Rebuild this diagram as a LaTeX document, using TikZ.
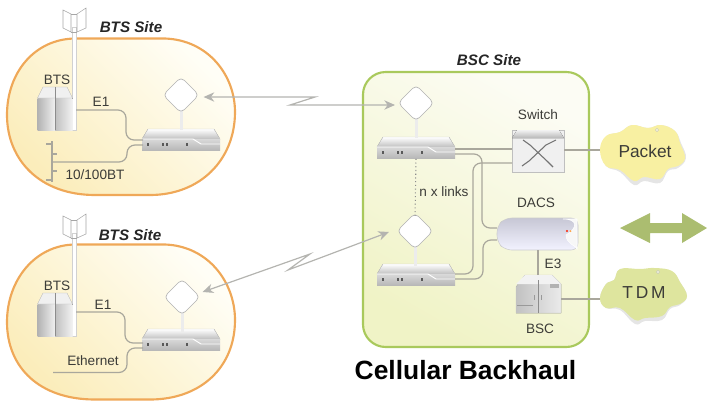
\documentclass[tikz,border=0pt]{standalone}
\usepackage{fontspec}
\setmainfont{Liberation Sans}
\usetikzlibrary{arrows.meta,calc}
\definecolor{wire}{HTML}{A9A79C}
\definecolor{linkc}{HTML}{B4B4B0}
\definecolor{orangeb}{HTML}{EFA858}
\definecolor{greenb}{HTML}{A9C95C}
\definecolor{lab}{HTML}{3C3C38}
\definecolor{sitea}{HTML}{FBEDBB}
\definecolor{siteb}{HTML}{FFFEF6}
\definecolor{bsca}{HTML}{F0F3C6}
\definecolor{bscb}{HTML}{FCFCF4}
\definecolor{pkfill}{HTML}{F8F0A2}
\definecolor{tdfill}{HTML}{DEE59E}
\definecolor{bigarrow}{HTML}{ABBD70}
\tikzset{
 x=0.75pt,y=-0.75pt,
 wireline/.style={draw=wire,line width=0.9pt,rounded corners=6pt},
 linkline/.style={draw=linkc,line width=0.9pt,{Stealth[length=8pt,width=7pt,inset=2.5pt]}-{Stealth[length=8pt,width=7pt,inset=2.5pt]}},
 lbl/.style={text=lab,font=\fontsize{10.2pt}{12pt}\selectfont,inner sep=0pt},
 sitelbl/.style={text=black!85,font=\fontsize{11.4pt}{13pt}\selectfont\bfseries\itshape,inner sep=0pt},
 sitefill/.style={draw=orangeb,line width=1.6pt,left color=sitea,right color=siteb,shading angle=135},
 pics/router/.style={code={
   \fill[top color=white,bottom color=black!25,draw=black!20,line width=0.3pt] (-39,-1) -- (-33,-11) -- (33,-11) -- (39,-1) -- cycle;
   \fill[top color=black!15,bottom color=black!28] (-39,-1) rectangle (39,10);
   \draw[white,line width=0.7pt] (-39,-1) -- (12,-1) -- (20,4) -- (39,4);
   \foreach \k in {-33,-18,-14,6}{\fill[black!65] (\k-1.2,3) rectangle (\k+1.2,5.6);}
   \node[inner sep=0pt,minimum width=58.5pt,minimum height=15.75pt] (-n) at (0,0) {};
 }},
 pics/antenna/.style={code={
   \fill[white!85!gray] (-1.5,10) rectangle (1.5,35);
   \draw[black!30,line width=0.5pt,fill=white,rounded corners=3.5pt] (0,-18) -- (18,0) -- (0,18) -- (-18,0) -- cycle;
   \node[inner sep=0pt,minimum size=20pt] (-n) at (0,0) {};
 }},
 pics/cabinet/.style={code={
   \fill[left color=black!30,right color=black!6] (-17.5,-12) rectangle (0,20);
   \fill[left color=black!25,right color=black!5] (0,-12) rectangle (17.5,20);
   \fill[black!6,draw=black!28,line width=0.3pt] (-17.5,-12) -- (-12,-23) -- (12,-23) -- (17.5,-12) -- cycle;
   \draw[black!45,line width=0.5pt] (0,-23) -- (0,20);
   \node[inner sep=0pt,minimum width=27pt,minimum height=33pt] (-n) at (0,0) {};
 }},
 pics/tower/.style={code={
   \fill[white,draw=black!18,line width=0.3pt] (-2,-8) rectangle (2,\towerlen);
   \fill[white,draw=black!35,line width=0.4pt] (-11,-25) -- (-3,-21) -- (-3,-3) -- (-11,-7) -- cycle;
   \fill[white,draw=black!35,line width=0.4pt] (12,-27) -- (3,-21) -- (3,-3) -- (12,-7) -- cycle;
   \draw[black!35,line width=0.4pt] (-3,-21) -- (3,-21) (-3,-3) -- (3,-3);
   \node[inner sep=0pt,minimum size=6pt] (-n) at (0,0) {};
 }},
}
\newcommand{\towerlen}{95}
\begin{document}
\begin{tikzpicture}
\useasboundingbox (0,0) rectangle (708,401);
% sites
\path[sitefill] (75,38.5) -- (165,38.5) .. controls (208,40) and (235,75) .. (235,112) .. controls (235,160) and (200,195) .. (150,195) -- (95,195) .. controls (40,195) and (7,160) .. (7,115) .. controls (7,72) and (35,39) .. (75,38.5) -- cycle;
\path[sitefill] (75,244.5) -- (165,244.5) .. controls (208,246) and (235,282) .. (235,320) .. controls (235,368) and (200,399.5) .. (150,399.5) -- (95,399.5) .. controls (40,399.5) and (7,368) .. (7,322) .. controls (7,280) and (35,245) .. (75,244.5) -- cycle;
\path[draw=greenb,line width=1.6pt,rounded corners=17pt,left color=bsca,right color=bscb,shading angle=150] (363,72) rectangle (589,347);
% site labels
\node[sitelbl] (s1) at (131,27) {BTS Site};
\node[sitelbl] (s2) at (130,235) {BTS Site};
\node[sitelbl] (s3) at (489,60) {BSC Site};
% site 1
\pic (t1) at (74,35) {tower};
\pic (c1) at (55,110) {cabinet};
\pic (r1) at (181,140) {router};
\pic (a1) at (181,95) {antenna};
\coordinate (bus1) at (52,162);
\draw[wireline] (t1-n.center |- 0,110) ++(2,0) -| (126,140) -- (143,140);
\draw[wireline] (bus1) -| (127,145) -- (143,145);
\draw[wire,line width=0.9pt] (52,141) -- (52,182) (52,154) -- (57,154) (46,144) -- (52,144) (46,180) -- (52,180) (52,171) -- (57,171);
\node[lbl] (b1) at (57,80) {BTS};
\node[lbl] (e1) at (101,102) {E1};
\node[lbl] (bt) at (95,175) {10/100BT};
% site 2
\pic (t2) at (74,241) {tower};
\pic (c2) at (55,316) {cabinet};
\pic (r2) at (181,340) {router};
\pic (a2) at (182,297) {antenna};
\coordinate (eth) at (53,372.5);
\draw[wireline] (76,312) -| (125,343) -- (143,343);
\draw[wireline] (eth) -| (127,348) -- (143,348);
\node[lbl] (b2) at (57,286) {BTS};
\node[lbl] (e2) at (103,305) {E1};
\node[lbl] (et) at (93,361) {Ethernet};
% BSC site
\pic (r3) at (416,148) {router};
\pic (a3) at (416,103) {antenna};
\pic (r4) at (416,275) {router};
\pic (a4) at (415,231) {antenna};
\draw[black!45,dotted,line width=0.8pt] (r3-n.south) -- (a4-n.north);
\node[lbl] (nx) at (444,192) {n x links};
% switch
\node[inner sep=0pt,minimum width=39pt,minimum height=31.5pt] (sw) at (538,151) {};
\fill[white!88!gray,draw=black!25,line width=0.3pt] (sw.south west) rectangle (sw.north east);
\fill[top color=black!5,bottom color=black!28] (512,138) -- (517,130) -- (559,130) -- (564,138) -- cycle;
\draw[black!55,line width=0.8pt] (523,140) -- (530,145) -- (547,161) -- (553,167) (556,140) -- (546,145) -- (529,161) -- (522,166);
\node[lbl] (swl) at (538,115) {Switch};
% DACS
\node[inner sep=0pt,minimum width=60.75pt,minimum height=24pt] (dacs) at (537.5,234) {};
\draw[black!20,line width=0.4pt,top color=blue!25!black!22!white,bottom color=white!95!blue,rounded corners=5pt] (497,226) -- (505,218) -- (578,218) -- (578,250) -- (505,250) -- (497,242) -- cycle;
\draw[white,fill=white!94!gray,line width=0.4pt] (563,219) .. controls (578,219) and (578,228) .. (566,235) .. controls (566,244) and (577,246) .. (577,249) -- (577,219) -- cycle;
\fill[red!75!orange] (567,231) circle (1.2);
\fill[orange!70] (570.5,231) circle (1);
\node[lbl] (dl) at (536,203) {DACS};
% BSC cabinet
\node[inner sep=0pt,minimum width=33.75pt,minimum height=28.5pt] (bsc) at (538.5,294) {};
\fill[left color=black!24,right color=black!8,draw=black!22,line width=0.3pt] (516,287) -- (525,275) -- (552,275) -- (561,284) -- (561,313) -- (516,313) -- cycle;
\fill[black!5] (516,284) -- (525,275) -- (552,275) -- (561,284) -- cycle;
\draw[black!45,line width=0.5pt] (538,280) -- (538,313);
\draw[black!40,line width=0.5pt] (534,295) -- (534,300) (541,295) -- (541,300) (517,305) -- (533,305);
\fill[black!30] (550,284) rectangle (559,288);
\node[lbl] (bl) at (540,329) {BSC};
\node[lbl] (e3) at (553,264) {E3};
% clouds
\path[fill=black!10] plot[smooth cycle,tension=0.7] coordinates {(601,150) (607,136) (620,132) (632,125) (648,128) (661,125) (675,131) (681,143) (686,158) (678,168) (668,171) (660,183) (644,181) (634,185) (620,172) (606,166)};
\node[inner sep=0pt,minimum width=45pt,minimum height=30pt] (pk) at (643,152) {};
\path[fill=pkfill] plot[smooth cycle,tension=0.7] coordinates {(600,150) (606,136) (620,132) (632,125) (648,128) (661,125) (675,131) (680,143) (685,158) (678,166) (668,169) (660,179) (644,177) (634,181) (620,170) (606,166)};
\draw[black!25,line width=0.3pt,fill=white!60!pkfill] (657,130) circle (1.6);
\node[font=\fontsize{13pt}{15pt}\selectfont,text=lab,inner sep=0pt] (pkl) at (645,151) {Packet};
\path[fill=black!10] plot[smooth cycle,tension=0.7] coordinates {(600,298) (606,284) (614,280) (620,270) (640,270) (655,269) (672,272) (680,282) (687,296) (680,305) (670,309) (662,320) (645,321) (635,324) (620,310) (606,308)};
\node[inner sep=0pt,minimum width=45pt,minimum height=30pt] (td) at (644,295) {};
\path[fill=tdfill] plot[smooth cycle,tension=0.7] coordinates {(600,298) (606,284) (614,280) (620,269) (640,269) (655,268) (672,271) (680,282) (687,296) (680,304) (670,307) (662,316) (645,318) (635,320) (620,308) (606,308)};
\draw[black!25,line width=0.3pt,fill=white!60!tdfill] (658,272) circle (1.6);
\node[font=\fontsize{13pt}{15pt}\selectfont,text=lab,inner sep=0pt] (tdl) at (644,293) {T\,D\,M};
% connectors
\draw[wireline] (455,149) -- (sw.west |- 0,149);
\draw[wireline] (455,154) -| (482,228) -- (497,228);
\draw[wireline] (512,163) -| (473,274) -- (455,274);
\draw[wireline] (497,240) -| (483,279) -- (455,279);
\draw[wire,line width=0.9pt] (564,150) -- (600,150);
\draw[wire,line width=0.9pt] (561,299) -- (600,299);
\draw[wire,line width=0.9pt] (538,250) -- (538,275);
% radio links
\draw[linkline] (a1-n.east) ++(9,2) -- (315,97) -- (290,105) -- (395,105);
\draw[linkline] (a2-n.east) ++(7,-5) -- (310,254) -- (288,270) -- (389,232);
% big arrow
\fill[bigarrow] (620,228) -- (650,213) -- (650,223) -- (682,223) -- (682,213) -- (707,228) -- (682,243) -- (682,233) -- (650,233) -- (650,243) -- cycle;
\node[font=\fontsize{19.8pt}{22pt}\selectfont\bfseries,inner sep=0pt] (ttl) at (465.5,370) {Cellular Backhaul};
\end{tikzpicture}
\end{document}
